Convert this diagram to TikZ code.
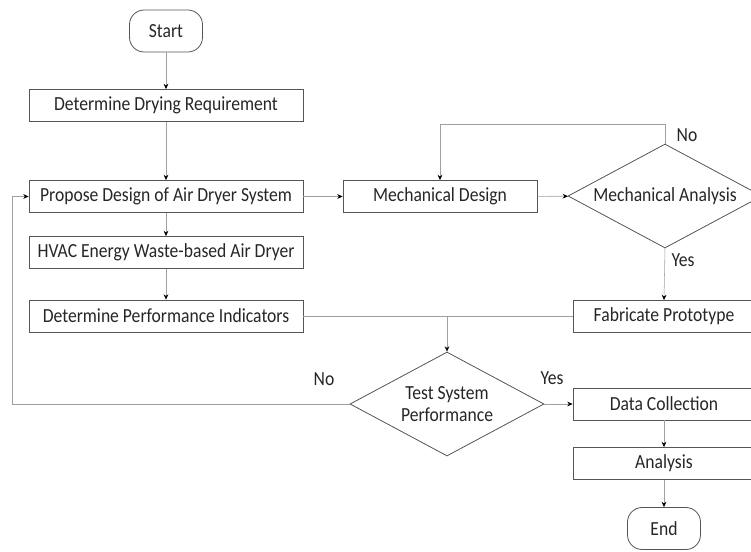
\documentclass[tikz,border=0pt]{standalone}
\usepackage{fontspec}
\setmainfont{Carlito}[FakeStretch=0.88]
\usepackage{tikz}
\usetikzlibrary{shapes.geometric, arrows.meta}
\definecolor{boxline}{HTML}{555555}
\definecolor{conline}{HTML}{A0A0A0}
\definecolor{txt}{HTML}{262626}
\tikzstyle{process} = [rectangle, draw=boxline, semithick, minimum width=205.5pt, minimum height=24pt, inner sep=0pt, text=txt, font=\fontsize{15}{17}\selectfont]
\tikzstyle{startstop} = [rectangle, rounded corners=11pt, draw=boxline, semithick, minimum width=54.75pt, minimum height=31.5pt, inner sep=0pt, text=txt, font=\fontsize{15}{17}\selectfont]
\tikzstyle{decision} = [diamond, draw=boxline, semithick, minimum width=145.5pt, minimum height=78pt, inner sep=0pt, shape aspect=1.87, align=center, text=txt, font=\fontsize{15}{17}\selectfont]
\tikzstyle{arrow} = [draw=conline, -{Stealth[black,length=4pt,width=3.5pt]}]
\tikzstyle{line} = [draw=conline]
\tikzstyle{lbl} = [text=txt, font=\fontsize{15}{17}\selectfont]

\begin{document}
\begin{tikzpicture}[x=0.75pt,y=0.75pt]
      \useasboundingbox(0,0)rectangle(751,-551);
      \clip(0,0)rectangle(751,-551);
      % left column
      \node[startstop](start)at(166,-31){Start};
      \node[process](drying)at(166,-105.5){Determine Drying Requirement};
      \node[process](propose)at(166,-196.5){Propose Design of Air Dryer System};
      \node[process](hvac)at(166,-252.5){HVAC Energy Waste-based Air Dryer};
      \node[process](indic)at(166,-316){Determine Performance Indicators};
      % right part
      \node[process,minimum width=145.5pt](mdesign)at(440,-196.5){Mechanical Design};
      \node[decision](manal)at(665,-196){Mechanical Analysis};
      \node[process,minimum width=136.5pt](fabric)at(664,-316.5){Fabricate Prototype};
      \node[decision](test)at(447,-404){Test System\\Performance};
      \node[process,minimum width=136.5pt](data)at(664,-404){Data Collection};
      \node[process,minimum width=136.5pt](analysis)at(664,-463.5){Analysis};
      \node[startstop](stop)at(664,-528.5){End};
      \coordinate(topbend)at(440,-124);
      \coordinate(merge)at(447,-316);
      \coordinate(leftbend)at(12,-404);
      % connectors
      \draw[arrow](start)--(drying);
      \draw[arrow](drying)--(propose);
      \draw[arrow](propose)--(hvac);
      \draw[arrow](hvac)--(indic);
      \draw[arrow](propose)--(mdesign);
      \draw[arrow](mdesign)--(manal);
      \draw[arrow](manal.north)|-(topbend)--(mdesign.north);
      \draw[arrow](manal.south)--(fabric.north);
      \draw[line](indic.east)--(merge);
      \draw[line](fabric.west)-|(merge);
      \draw[arrow](merge)--(test.north);
      \draw[arrow](test.west)--(leftbend)|-(propose.west);
      \draw[arrow](test.east)--(data.west);
      \draw[arrow](data)--(analysis);
      \draw[arrow](analysis)--(stop);
      % labels
      \node[lbl](noA)at(687,-135){No};
      \node[lbl](yesA)at(683,-260){Yes};
      \node[lbl](noB)at(324,-379){No};
      \node[lbl](yesB)at(552,-378){Yes};
\end{tikzpicture}
\end{document}
